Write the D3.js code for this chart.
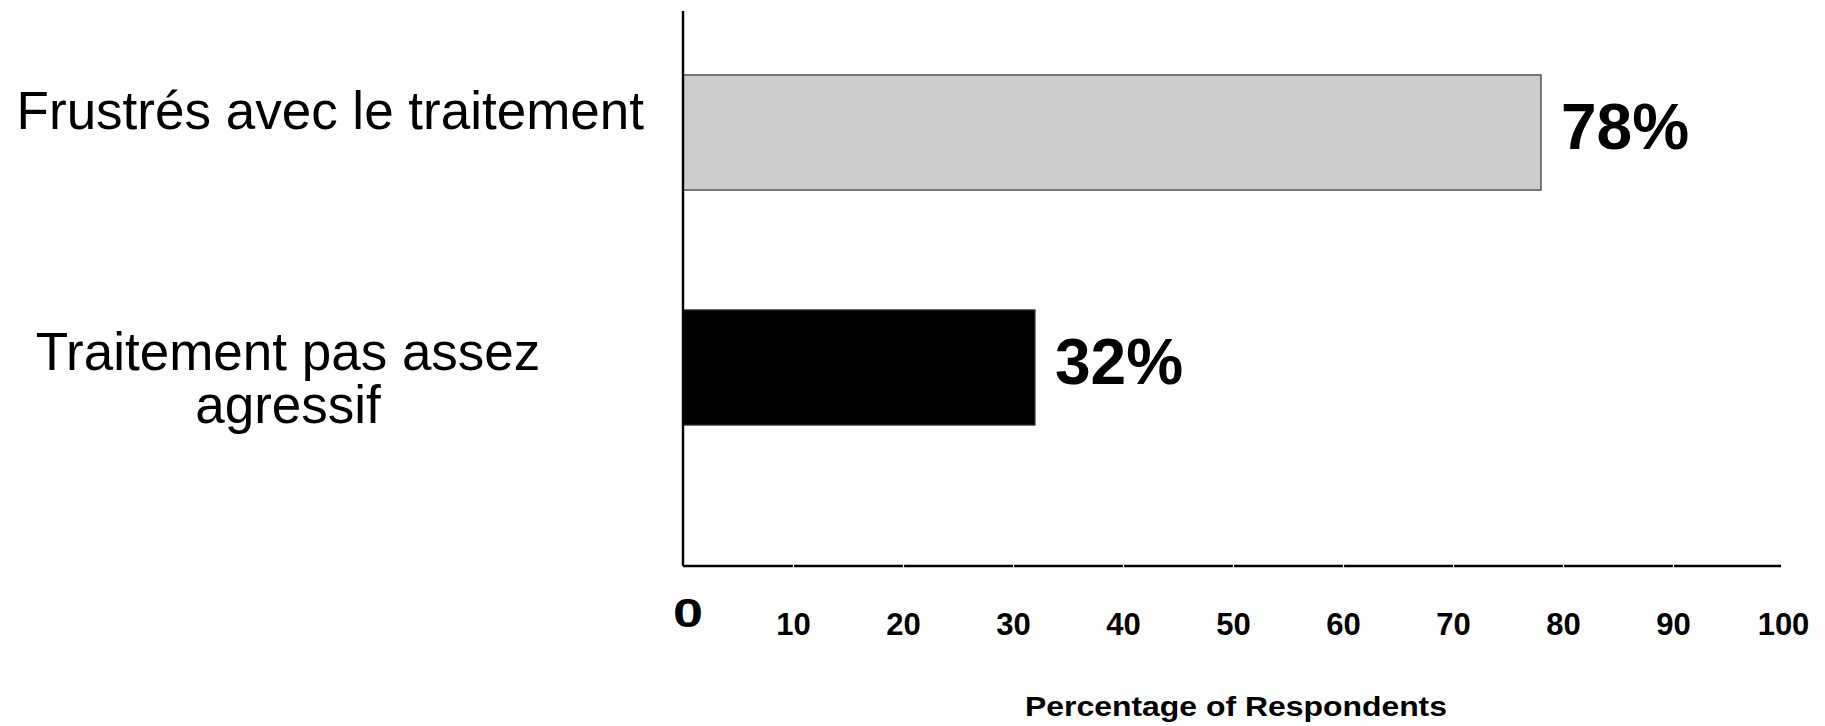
<!DOCTYPE html>
<html>
<head>
<meta charset="utf-8">
<script src="https://cdn.jsdelivr.net/npm/d3@7"></script>
<style>
  html, body { margin: 0; padding: 0; background: #fff; }
  svg { display: block; }
  text { font-family: "Liberation Sans", Arial, sans-serif; fill: #000; }
</style>
</head>
<body>
<svg id="chart" width="1825" height="726"></svg>
<script>
// Survey results: share of respondents per statement
const categories = ["Frustrés avec le traitement", "Traitement pas assez agressif"];
const categoryLines = [["Frustrés avec le traitement"], ["Traitement pas assez", "agressif"]];
const values = [78, 32];
const valueLabels = ["78%", "32%"];
const barColors = ["#cccccc", "#000000"];
const tickValues = [0, 10, 20, 30, 40, 50, 60, 70, 80, 90, 100];
const axisTitle = "Percentage of Respondents";

const svg = d3.select("#chart");

const x = d3.scaleLinear().domain([0, 100]).range([683, 1783]);
const y = d3.scaleBand()
  .domain(categories)
  .range([15, 485])
  .paddingInner(0.51)
  .paddingOuter(0.255);

const axisY = 566;

// Bars
svg.selectAll("rect.bar")
  .data(categories)
  .join("rect")
  .attr("class", "bar")
  .attr("x", x(0))
  .attr("y", d => y(d))
  .attr("width", (d, i) => x(values[i]) - x(0))
  .attr("height", y.bandwidth())
  .attr("fill", (d, i) => barColors[i])
  .attr("stroke", "#333")
  .attr("stroke-width", 1.2);

// Value labels beside each bar
svg.selectAll("text.value")
  .data(categories)
  .join("text")
  .attr("class", "value")
  .attr("x", (d, i) => x(values[i]) + 20)
  .attr("y", d => y(d) + y.bandwidth() / 2 + 16)
  .attr("font-size", 64)
  .attr("font-weight", "bold")
  .text((d, i) => valueLabels[i]);

// Category labels on the left
const labelAnchors = [{ x: 644, anchor: "end", dy: -3.5 }, { x: 288, anchor: "middle", dy: 2 }];
categories.forEach((c, i) => {
  const t = svg.append("text")
    .attr("class", "category")
    .attr("font-size", 53)
    .attr("text-anchor", labelAnchors[i].anchor)
    .attr("y", y(c) + y.bandwidth() / 2 + labelAnchors[i].dy);
  categoryLines[i].forEach((line, j) => {
    t.append("tspan")
      .attr("x", labelAnchors[i].x)
      .attr("dy", j === 0 ? 0 : 53)
      .text(line);
  });
});

// Vertical axis line
svg.append("line")
  .attr("x1", x(0)).attr("x2", x(0))
  .attr("y1", 11).attr("y2", axisY)
  .attr("stroke", "#000").attr("stroke-width", 2.4);

// Horizontal axis with tick labels
const xAxis = d3.axisBottom(x)
  .tickValues(tickValues)
  .tickSize(0)
  .tickPadding(0)
  .tickFormat(d3.format("d"));

const gx = svg.append("g")
  .attr("transform", `translate(0,${axisY})`)
  .call(xAxis);

gx.select(".domain")
  .attr("d", `M${x(0)},0H${x(100) - 2}`)
  .attr("stroke", "#000")
  .attr("stroke-width", 2.4);

// Small light notches where the ticks fall
gx.selectAll(".tick").filter(d => d > 0 && d < 100)
  .append("line")
  .attr("y1", -1.5).attr("y2", 1.5)
  .attr("stroke", "#fff").attr("stroke-width", 1.2);

gx.selectAll(".tick text")
  .style("font-family", "'Liberation Sans', Arial, sans-serif")
  .style("font-weight", "bold")
  .attr("fill", "#000")
  .style("font-size", d => (d === 0 ? 40 : 31) + "px")
  .attr("y", d => d === 0 ? 61 : 69)
  .attr("dy", 0)
  .attr("transform", d => d === 0 ? `translate(4.5,0) scale(1.35,1)` : null);

// Axis title
svg.append("text")
  .attr("x", 1236)
  .attr("y", 716)
  .attr("text-anchor", "middle")
  .attr("font-size", 28)
  .attr("font-weight", "bold")
  .attr("textLength", 422)
  .attr("lengthAdjust", "spacingAndGlyphs")
  .text(axisTitle);
</script>
</body>
</html>
